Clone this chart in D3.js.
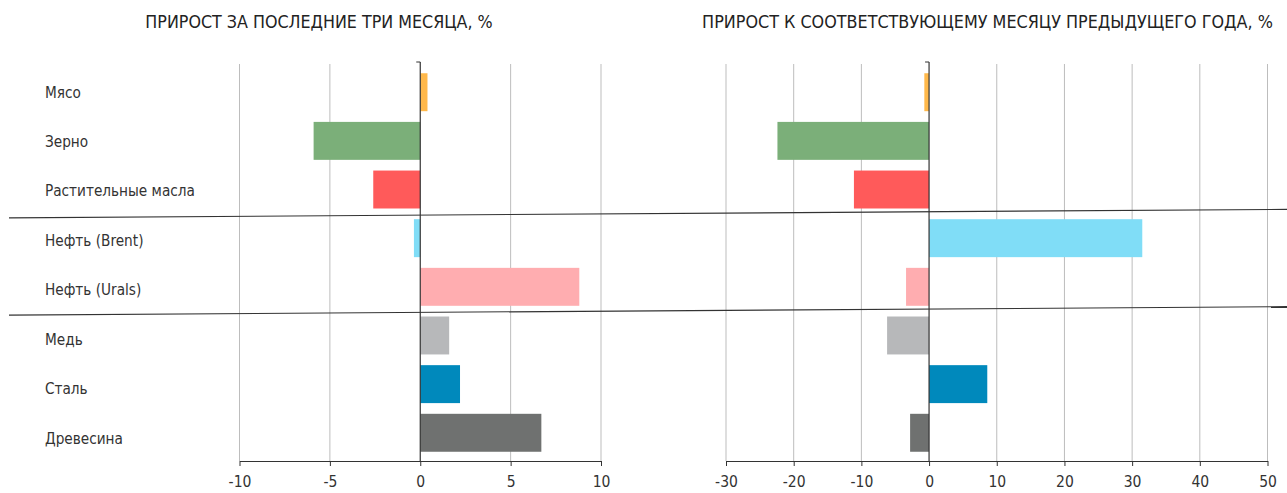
<!DOCTYPE html>
<html><head><meta charset="utf-8">
<script src="https://cdn.jsdelivr.net/npm/d3@7"></script>
<style>
body{margin:0;background:#fff;}
svg text{font-family:"Liberation Sans Narrow","DejaVu Sans Condensed","Roboto",sans-serif;fill:#333;}
</style></head><body>
<svg id="c" width="1287" height="493"></svg>
<script>
const categories = ["Мясо","Зерно","Растительные масла","Нефть (Brent)","Нефть (Urals)","Медь","Сталь","Древесина"];
const growth3m = [0.4,-5.9,-2.6,-0.35,8.8,1.6,2.2,6.7];
const growthYoY = [-0.7,-22.4,-11.1,31.5,-3.4,-6.2,8.6,-2.8];
const barColors = ["#FFB84A","#7BAF79","#FF5A5A","#80DDF7","#FFADB0","#B7B8BA","#0089BC","#6F7170"];
const ticks3m = [-10,-5,0,5,10];
const ticksYoY = [-30,-20,-10,0,10,20,30,40,50];
const title3m = "ПРИРОСТ ЗА ПОСЛЕДНИЕ ТРИ МЕСЯЦА, %";
const titleYoY = "ПРИРОСТ К СООТВЕТСТВУЮЩЕМУ МЕСЯЦУ ПРЕДЫДУЩЕГО ГОДА, %";

const svg = d3.select("#c");
const plotTop = 64, plotBottom = 461;
const y = d3.scaleBand().domain(categories).range([plotTop, plotBottom]).paddingInner(0.22).paddingOuter(0.19);
const yLabel = d3.scalePoint().domain(categories).range([92, 438]);

function panel(values, ticks, x0, x1, title, titleX, titleSize){
  const x = d3.scaleLinear().domain([ticks[0], ticks[ticks.length-1]]).range([x0, x1]);
  const g = svg.append("g");
  g.selectAll(".grid").data(ticks.filter(t=>t!==0)).enter().append("line")
    .attr("x1", d=>x(d)).attr("x2", d=>x(d)).attr("y1", plotTop).attr("y2", plotBottom)
    .attr("stroke","#bdbdbd").attr("stroke-width",1);
  g.selectAll(".bar").data(values).enter().append("rect")
    .attr("x", d=>x(Math.min(0,d))).attr("width", d=>Math.abs(x(d)-x(0)))
    .attr("y", (d,i)=>y(categories[i])).attr("height", y.bandwidth())
    .attr("fill", (d,i)=>barColors[i]);
  g.append("line").attr("x1",x(0)).attr("x2",x(0)).attr("y1",plotTop-2).attr("y2",plotBottom)
    .attr("stroke","#333").attr("stroke-width",1.2);
  g.append("line").attr("x1",x(0)-4).attr("x2",x(0)).attr("y1",plotTop-2).attr("y2",plotTop-2)
    .attr("stroke","#333").attr("stroke-width",1);
  const ax = d3.axisBottom(x).tickValues(ticks).tickSize(5).tickSizeOuter(0).tickPadding(10).tickFormat(d3.format("d"));
  const axg = g.append("g").attr("transform",`translate(0,${plotBottom})`).call(ax);
  axg.select(".domain").attr("stroke","#333").attr("stroke-width",1.2);
  axg.selectAll(".tick line").attr("stroke","#333");
  axg.selectAll(".tick text").style("font-size","15.5px").style("fill","#333")
    .text(d=>String(d));
  svg.append("text").attr("x",titleX).attr("y",28).attr("text-anchor","middle")
    .style("font-size",titleSize).style("fill","#222").text(title);
  return x;
}

panel(growth3m, ticks3m, 239.5, 601, title3m, 319, "17.7px");
panel(growthYoY, ticksYoY, 726, 1267.5, titleYoY, 987.5, "17.8px");

svg.selectAll(".cat").data(categories).enter().append("text")
  .attr("x",45).attr("y",d=>yLabel(d)+5.5)
  .style("font-size","15.2px").style("fill","#333").text(d=>d);

[3,5].forEach(i=>{
  const b = y(categories[i]) - y.step()*y.paddingInner()/2;
  svg.append("line").attr("x1",9).attr("y1",b+4).attr("x2",1287).attr("y2",b-4.5)
    .attr("stroke","#333").attr("stroke-width",1.1);
});
</script></body></html>
